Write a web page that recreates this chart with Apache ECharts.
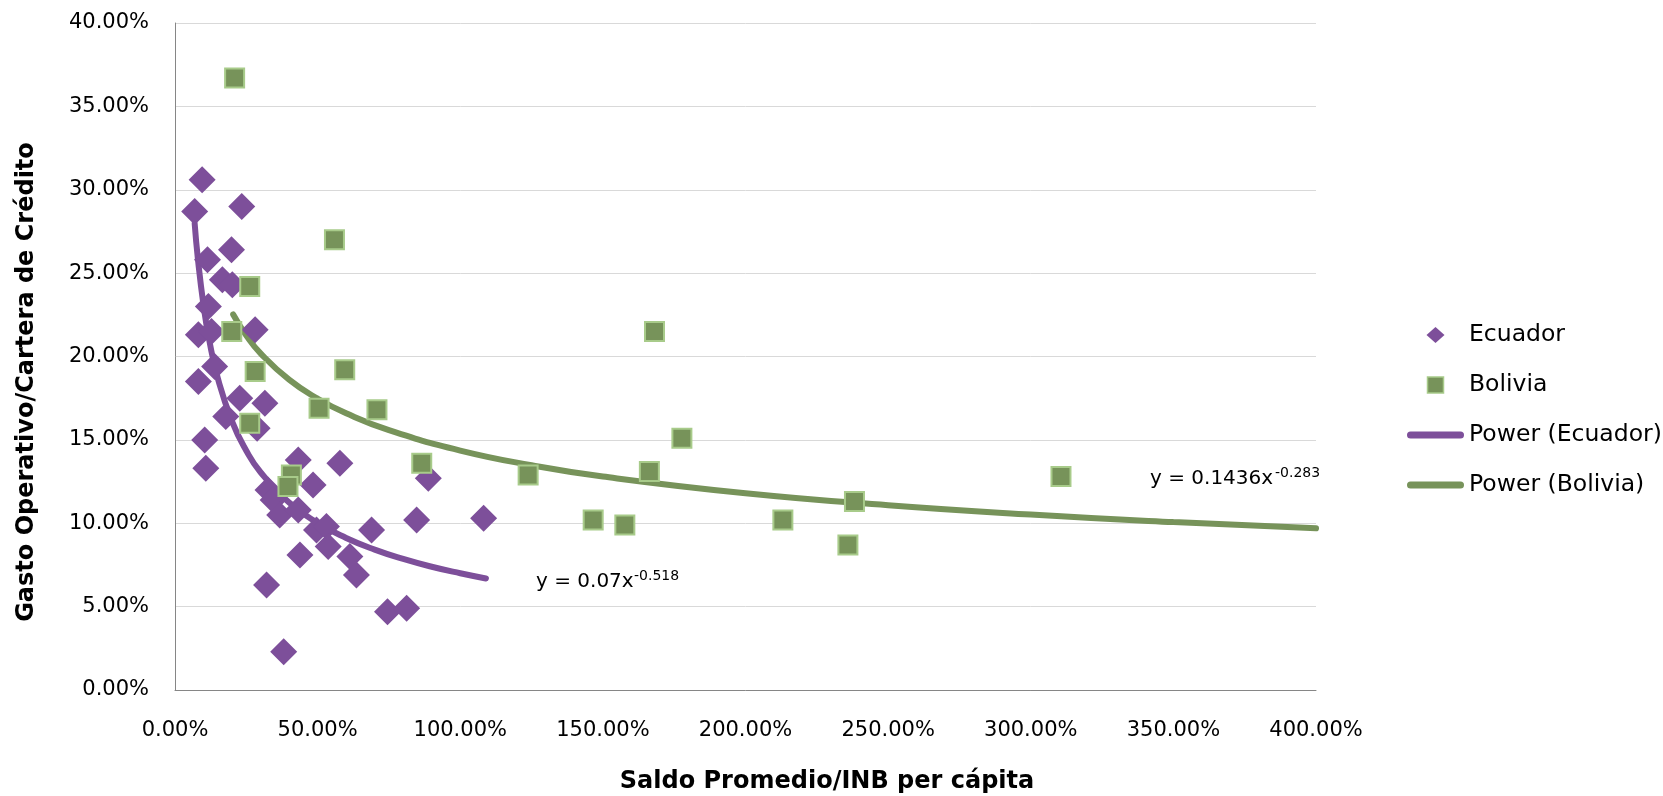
<!DOCTYPE html>
<html>
<head>
<meta charset="utf-8">
<style>
html,body{margin:0;padding:0;background:#fff;}
#chart{width:1663px;height:796px;}
</style>
<script src="https://cdn.jsdelivr.net/npm/echarts@6/dist/echarts.min.js"></script>
</head>
<body>
<div id="chart"></div>
<script>
// Ecuador points: [Saldo Promedio/INB per cápita %, Gasto Operativo/Cartera %]
var ecuadorX = [6.9, 9.5, 23.4, 19.8, 11.4, 16.6, 20.1, 11.7, 8.2, 12.8, 28.1, 8.2, 13.9, 22.7, 31.5, 17.8, 28.8, 10.4, 10.8, 43.2, 57.8, 88.8, 48.4, 32.6, 34.4, 36.7, 43.2, 49.6, 53.1, 53.7, 43.8, 61.3, 63.6, 68.9, 84.7, 108.2, 32.1, 74.5, 81.2, 38.1];
var ecuadorY = [28.7, 30.6, 29.0, 26.4, 25.8, 24.6, 24.3, 23.0, 21.3, 21.5, 21.6, 18.5, 19.4, 17.5, 17.2, 16.4, 15.7, 15.0, 13.3, 13.8, 13.6, 12.7, 12.3, 12.0, 11.4, 10.5, 10.8, 9.6, 9.8, 8.6, 8.1, 8.0, 6.9, 9.6, 10.2, 10.3, 6.3, 4.7, 4.9, 2.3];

// Bolivia points
var boliviaX = [20.9, 55.9, 26.2, 19.9, 28.1, 59.5, 26.2, 50.5, 70.8, 86.5, 123.8, 40.8, 39.6, 168.1, 177.7, 166.3, 146.6, 157.7, 213.1, 238.2, 235.9, 310.6];
var boliviaY = [36.7, 27.0, 24.2, 21.5, 19.1, 19.2, 16.0, 16.9, 16.8, 13.6, 12.9, 12.9, 12.2, 21.5, 15.1, 13.1, 10.2, 9.9, 10.2, 11.3, 8.7, 12.8];

// Trend line (Power, Ecuador)
var trendEcuadorX = [6.9, 8, 10, 12, 15, 20, 25, 30, 40, 50, 60, 70, 80, 90, 100, 109];
var trendEcuadorY = [27.97, 25.90, 23.07, 20.99, 18.70, 16.11, 14.35, 13.06, 11.25, 10.02, 9.12, 8.42, 7.86, 7.39, 7.00, 6.69];

// Trend line (Power, Bolivia)
var trendBoliviaX = [20.4, 25, 30, 40, 50, 60, 75, 100, 125, 150, 200, 250, 300, 350, 400];
var trendBoliviaY = [22.52, 21.26, 20.19, 18.61, 17.47, 16.59, 15.58, 14.36, 13.48, 12.80, 11.80, 11.08, 10.52, 10.07, 9.70];

var xTicks = [0, 50, 100, 150, 200, 250, 300, 350, 400];
var yTicks = [0, 5, 10, 15, 20, 25, 30, 35, 40];

var seriesNames = ['Ecuador', 'Bolivia', 'Power (Ecuador)', 'Power (Bolivia)'];
var eqEcuador = ['y = 0.07x', '-0.518'];
var eqBolivia = ['y = 0.1436x', '-0.283'];
var xTitle = 'Saldo Promedio/INB per cápita';
var yTitle = 'Gasto Operativo/Cartera de Crédito';

function zip(a, b) { return a.map(function (v, i) { return [v, b[i]]; }); }

var FONT = 'DejaVu Sans';
var PURPLE = '#7D4F9A';
var GREEN = '#77935A';
var GREEN_BORDER = '#A8CB8A';

var ICON_DIAMOND = 'path://M9,0 L18,8 L9,16 L0,8 Z';
var ICON_SQUARE = 'path://M0,0 L16,0 L16,16 L0,16 Z';
var ICON_LINE = 'path://M3.5,0 L53.5,0 A3.5,3.5 0 0 1 53.5,7 L3.5,7 A3.5,3.5 0 0 1 3.5,0 Z';

var chart = echarts.init(document.getElementById('chart'), null, { renderer: 'canvas' });
chart.setOption({
  animation: false,
  backgroundColor: '#ffffff',
  grid: { left: 175, right: 347, top: 23, bottom: 106, containLabel: false },
  xAxis: {
    type: 'value', min: xTicks[0], max: xTicks[xTicks.length - 1], interval: 50,
    axisLine: { show: true, onZero: false, lineStyle: { color: '#868686', width: 1 } },
    axisTick: { show: false },
    splitLine: { show: false },
    axisLabel: { margin: 30, fontFamily: FONT, fontSize: 21, color: '#000',
      formatter: function (v) { return v.toFixed(2) + '%'; } }
  },
  yAxis: {
    type: 'value', min: yTicks[0], max: yTicks[yTicks.length - 1], interval: 5,
    axisLine: { show: true, onZero: false, lineStyle: { color: '#868686', width: 1 } },
    axisTick: { show: false },
    splitLine: { show: true, lineStyle: { color: '#D9D9D9', width: 1 } },
    axisLabel: { margin: 26, fontFamily: FONT, fontSize: 21, color: '#000',
      formatter: function (v) { return v.toFixed(2) + '%'; } }
  },
  legend: {
    orient: 'vertical', left: 1402, top: 318, itemWidth: 57, itemHeight: 16, itemGap: 26,
    symbolKeepAspect: true,
    textStyle: { fontFamily: FONT, fontSize: 23.5, color: '#000' },
    data: [
      { name: seriesNames[0], icon: ICON_DIAMOND, itemStyle: { color: PURPLE, borderWidth: 0 } },
      { name: seriesNames[1], icon: ICON_SQUARE, itemStyle: { color: GREEN, borderColor: GREEN_BORDER, borderWidth: 1.5 } },
      { name: seriesNames[2], icon: ICON_LINE, itemStyle: { color: PURPLE, borderWidth: 0 } },
      { name: seriesNames[3], icon: ICON_LINE, itemStyle: { color: GREEN, borderWidth: 0 } }
    ]
  },
  series: [
    { name: seriesNames[2], type: 'line', data: zip(trendEcuadorX, trendEcuadorY), smooth: true,
      symbol: 'none', z: 2, lineStyle: { color: PURPLE, width: 6, cap: 'round' }, itemStyle: { color: PURPLE } },
    { name: seriesNames[3], type: 'line', data: zip(trendBoliviaX, trendBoliviaY), smooth: true,
      symbol: 'none', z: 2, lineStyle: { color: GREEN, width: 6, cap: 'round' }, itemStyle: { color: GREEN } },
    { name: seriesNames[0], type: 'scatter', data: zip(ecuadorX, ecuadorY), symbol: 'diamond', symbolSize: 27,
      z: 3, itemStyle: { color: PURPLE, opacity: 1 } },
    { name: seriesNames[1], type: 'scatter', data: zip(boliviaX, boliviaY), symbol: 'rect', symbolSize: 19,
      z: 4, itemStyle: { color: GREEN, borderColor: GREEN_BORDER, borderWidth: 2, opacity: 1 } }
  ],
  graphic: [
    { type: 'text', x: 827, y: 782, style: { text: xTitle, fontFamily: FONT, fontWeight: 'bold', fontSize: 24, fill: '#000', align: 'center', verticalAlign: 'middle' } },
    { type: 'text', x: 27, y: 382, rotation: Math.PI / 2, style: { text: yTitle, fontFamily: FONT, fontWeight: 'bold', fontSize: 24, fill: '#000', align: 'center', verticalAlign: 'middle' } },
    { type: 'text', x: 536, y: 582, style: { text: eqEcuador[0], fontFamily: FONT, fontSize: 20, fill: '#000', align: 'left', verticalAlign: 'middle' } },
    { type: 'text', x: 634, y: 576, style: { text: eqEcuador[1], fontFamily: FONT, fontSize: 14, fill: '#000', align: 'left', verticalAlign: 'middle' } },
    { type: 'text', x: 1150, y: 479, style: { text: eqBolivia[0], fontFamily: FONT, fontSize: 20, fill: '#000', align: 'left', verticalAlign: 'middle' } },
    { type: 'text', x: 1275, y: 473, style: { text: eqBolivia[1], fontFamily: FONT, fontSize: 14, fill: '#000', align: 'left', verticalAlign: 'middle' } }
  ]
});
</script>
</body>
</html>
